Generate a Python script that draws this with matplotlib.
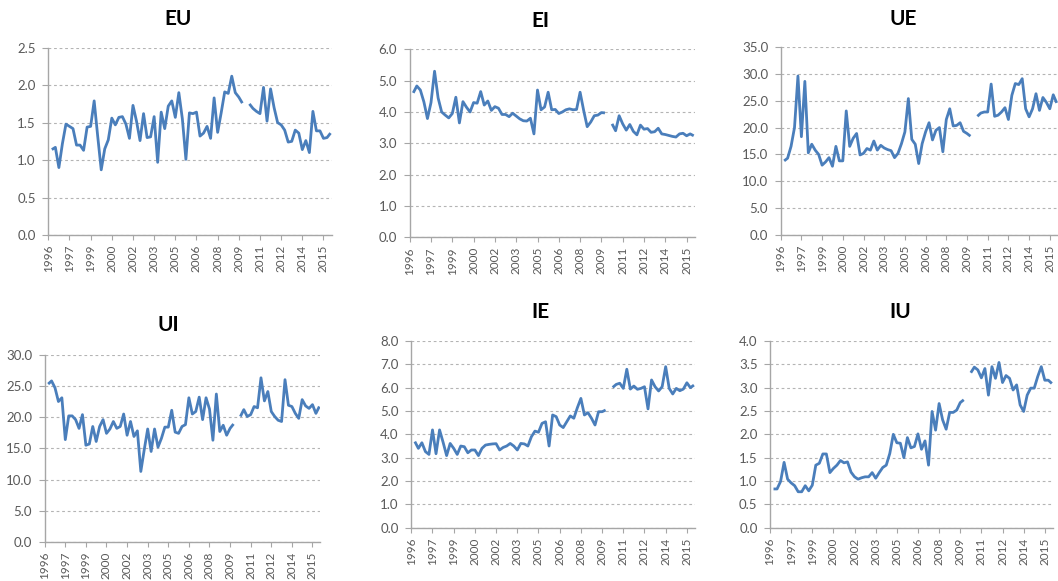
import numpy as np
import matplotlib
matplotlib.use("Agg")
import matplotlib.pyplot as plt
from matplotlib.ticker import FormatStrFormatter, MultipleLocator

nan = np.nan

# category labels shown every 6th quarter
year_labels = ["1996", "1997", "1999", "2000", "2002", "2003", "2005",
               "2006", "2008", "2009", "2011", "2012", "2014", "2015"]

# quarterly flows, one gap where the series breaks
eu = [1.14, 1.17, 0.90, 1.22, 1.48, 1.45, 1.42, 1.20, 1.20, 1.13,
      1.44, 1.45, 1.79, 1.32, 0.87, 1.15, 1.27, 1.56, 1.47, 1.57,
      1.58, 1.48, 1.29, 1.73, 1.52, 1.26, 1.62, 1.30, 1.31, 1.58,
      0.97, 1.64, 1.42, 1.72, 1.79, 1.57, 1.90, 1.55, 1.01, 1.63,
      1.62, 1.64, 1.32, 1.36, 1.45, 1.29, 1.83, 1.37, 1.63, 1.91,
      1.89, 2.12, 1.90, 1.84, 1.76, nan,
      1.75, 1.69, 1.65, 1.62, 1.97, 1.52, 1.95, 1.70, 1.50, 1.47,
      1.40, 1.24, 1.25, 1.40, 1.36, 1.14, 1.26, 1.10, 1.65, 1.39,
      1.39, 1.29, 1.30, 1.36]

ei = [4.61, 4.83, 4.70, 4.32, 3.79, 4.30, 5.30, 4.45, 4.00, 3.90,
      3.81, 3.95, 4.47, 3.65, 4.33, 4.15, 4.00, 4.30, 4.28, 4.65,
      4.22, 4.35, 4.05, 4.17, 4.12, 3.92, 3.92, 3.85, 3.96, 3.87,
      3.78, 3.72, 3.71, 3.80, 3.30, 4.70, 4.07, 4.16, 4.63, 4.07,
      4.08, 3.95, 4.00, 4.07, 4.10, 4.07, 4.08, 4.63, 4.05, 3.53,
      3.68, 3.88, 3.90, 3.98, 3.97, nan,
      3.62, 3.40, 3.88, 3.62, 3.42, 3.60, 3.38, 3.27, 3.58, 3.45,
      3.47, 3.35, 3.37, 3.48, 3.30, 3.28, 3.25, 3.22, 3.20, 3.30,
      3.32, 3.24, 3.30, 3.24]

ue = [13.8, 14.3, 16.5, 20.0, 29.6, 18.3, 28.6, 15.3, 16.9, 15.8,
      15.0, 13.0, 13.6, 14.4, 12.8, 16.5, 13.8, 13.8, 23.1, 16.5,
      18.0, 18.9, 14.9, 15.2, 16.1, 15.8, 17.5, 15.8, 16.7, 16.2,
      15.9, 15.7, 14.4, 15.2, 17.0, 19.2, 25.4, 17.8, 16.9, 13.3,
      17.0, 19.2, 20.9, 17.7, 19.5, 20.0, 15.5, 21.5, 23.5, 20.3,
      20.4, 20.9, 19.3, 18.9, 18.4, nan,
      22.1, 22.7, 22.9, 22.9, 28.1, 22.1, 22.3, 22.9, 23.7, 21.5,
      26.0, 28.2, 28.0, 29.1, 23.5, 22.0, 23.5, 26.3, 23.2, 25.6,
      24.7, 23.5, 26.1, 24.6]

ui = [25.3, 25.8, 24.7, 22.5, 23.1, 16.4, 20.2, 20.2, 19.6, 18.2,
      20.4, 15.5, 15.7, 18.5, 16.1, 18.5, 19.6, 17.4, 18.1, 19.3,
      18.2, 18.5, 20.5, 17.1, 19.3, 16.9, 17.8, 11.3, 14.8, 18.1,
      14.5, 18.1, 15.2, 16.6, 18.4, 18.4, 21.1, 17.6, 17.4, 18.5,
      18.8, 23.1, 20.5, 20.9, 23.2, 19.6, 23.1, 21.3, 16.3, 23.7,
      17.7, 18.7, 17.1, 18.2, 18.9, nan,
      20.1, 21.2, 20.1, 20.4, 21.7, 21.5, 26.3, 22.6, 24.1, 20.9,
      20.1, 19.5, 19.3, 26.0, 21.9, 21.7, 20.6, 19.8, 22.8, 21.8,
      21.4, 22.0, 20.6, 21.7]

ie = [3.69, 3.40, 3.64, 3.26, 3.14, 4.19, 3.17, 4.19, 3.66, 3.09,
      3.61, 3.40, 3.14, 3.50, 3.47, 3.21, 3.33, 3.33, 3.09, 3.40,
      3.54, 3.57, 3.59, 3.60, 3.33, 3.44, 3.50, 3.61, 3.50, 3.33,
      3.61, 3.59, 3.50, 3.90, 4.14, 4.09, 4.47, 4.54, 3.50, 4.83,
      4.76, 4.40, 4.29, 4.54, 4.79, 4.69, 5.14, 5.54, 4.83, 4.93,
      4.69, 4.40, 4.97, 4.97, 5.04, nan,
      6.01, 6.14, 6.19, 5.97, 6.79, 5.94, 6.07, 5.93, 5.97, 6.04,
      5.09, 6.33, 6.04, 5.86, 6.04, 6.90, 5.97, 5.73, 5.97, 5.87,
      5.94, 6.21, 6.00, 6.11]

iu = [0.83, 0.83, 0.99, 1.40, 1.04, 0.96, 0.90, 0.77, 0.77, 0.90,
      0.79, 0.91, 1.34, 1.38, 1.58, 1.58, 1.18, 1.27, 1.34, 1.44,
      1.39, 1.41, 1.19, 1.09, 1.04, 1.07, 1.09, 1.09, 1.18, 1.06,
      1.18, 1.29, 1.34, 1.59, 2.00, 1.82, 1.81, 1.50, 1.93, 1.71,
      1.74, 2.01, 1.68, 1.86, 1.34, 2.49, 2.09, 2.66, 2.31, 2.11,
      2.47, 2.47, 2.52, 2.68, 2.74, nan,
      3.32, 3.44, 3.38, 3.21, 3.41, 2.84, 3.45, 3.20, 3.54, 3.11,
      3.26, 3.20, 2.95, 3.06, 2.63, 2.49, 2.84, 2.99, 2.99, 3.24,
      3.45, 3.16, 3.16, 3.09]

W, H = 1058, 581
LINE = "#4A7EBB"
AXIS = "#A6A6A6"
GRID = "#B4B4B4"
TEXT = "#595959"

plt.rcParams['font.family'] = ['Lato', 'DejaVu Sans']

fig = plt.figure(figsize=(W / 100, H / 100), dpi=100)
x = np.arange(len(eu))
tick_pos = np.arange(-1, 78, 6)


def draw_panel(values, title, ymax, ystep, left, top, bottom, ppu, tx, ty):
    # pixel box -> figure fraction; the axis runs from category -1 to ~79
    right = left + 80.3 * ppu
    ax = fig.add_axes([left / W, 1 - bottom / H, (right - left) / W, (bottom - top) / H])
    ax.plot(x, values, color=LINE, lw=2.0, solid_capstyle='butt', solid_joinstyle='round')
    ax.set_xlim(-1, 79.3)
    ax.set_ylim(0, ymax)

    ax.yaxis.set_major_locator(MultipleLocator(ystep))
    ax.yaxis.set_major_formatter(FormatStrFormatter('%.1f'))
    ax.set_xticks(tick_pos)
    ax.set_xticklabels(year_labels, rotation=90)

    ax.set_axisbelow(True)
    ax.yaxis.grid(True, color=GRID, lw=0.8, linestyle=(0, (2.5, 2.5)))
    for side in ('top', 'right'):
        ax.spines[side].set_visible(False)
    for side in ('left', 'bottom'):
        ax.spines[side].set_color(AXIS)
        ax.spines[side].set_linewidth(1.0)

    ax.tick_params(axis='y', direction='out', length=4, width=0.8, color=AXIS,
                   labelsize=9.5, labelcolor=TEXT, pad=5)
    ax.tick_params(axis='x', direction='out', length=3.5, width=0.8, color=AXIS,
                   labelsize=8.5, labelcolor=TEXT, pad=3.5)

    fig.text(tx / W, 1 - ty / H, title, ha='center', va='center',
             fontsize=15, fontweight='bold', color='black')
    return ax


draw_panel(eu, "EU", 2.5, 0.5, 48.3, 47.7, 235.0, 3.528, 178, 19)
draw_panel(ei, "EI", 6.0, 1.0, 409.7, 49.3, 237.3, 3.55, 540, 21)
draw_panel(ue, "UE", 35.0, 5.0, 780.7, 47.0, 235.0, 3.45, 903, 19)
draw_panel(ui, "UI", 30.0, 5.0, 44.7, 354.7, 542.0, 3.433, 168, 325)
draw_panel(ie, "IE", 8.0, 1.0, 411.3, 341.0, 527.7, 3.533, 540, 312)
draw_panel(iu, "IU", 4.0, 0.5, 770.0, 341.0, 527.7, 3.523, 900, 312)

fig.savefig("out.png", dpi=100, facecolor='white')
